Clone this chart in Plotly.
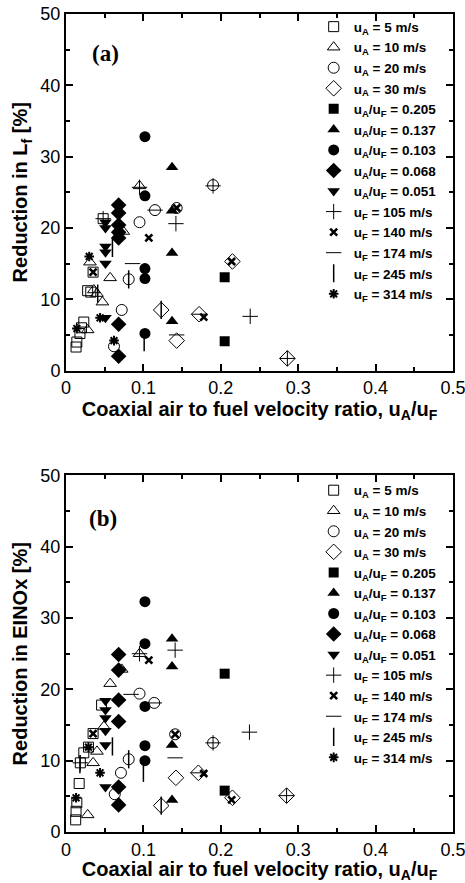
import plotly.graph_objects as go
from plotly.subplots import make_subplots

# ---------------- Panel (a): Reduction in Lf ----------------
a_uA5_x = [0.013, 0.014, 0.018, 0.020, 0.023, 0.028, 0.032, 0.035, 0.048]
a_uA5_y = [3.3, 4.0, 5.2, 6.0, 6.8, 11.2, 11.0, 13.8, 21.3]
a_uA10_x = [0.028, 0.031, 0.036, 0.040, 0.047, 0.057, 0.074, 0.095]
a_uA10_y = [5.7, 15.2, 11.3, 10.8, 9.6, 13.0, 19.5, 25.9]
a_uA20_x = [0.062, 0.072, 0.081, 0.095, 0.115, 0.143, 0.190]
a_uA20_y = [3.4, 8.5, 12.8, 20.8, 22.5, 22.8, 26.0]
a_uA30_x = [0.123, 0.143, 0.172, 0.215, 0.286]
a_uA30_y = [8.5, 4.2, 7.9, 15.3, 1.7]
a_r205_x = [0.205, 0.205]
a_r205_y = [13.1, 4.1]
a_r137_x = [0.137, 0.137, 0.137, 0.137]
a_r137_y = [28.5, 22.4, 16.5, 6.9]
a_r103_x = [0.102, 0.102, 0.102, 0.102, 0.102]
a_r103_y = [32.8, 24.5, 14.3, 12.9, 5.2]
a_r068_x = [0.068, 0.068, 0.068, 0.068, 0.068, 0.068, 0.068]
a_r068_y = [23.2, 22.1, 20.4, 19.4, 18.6, 6.5, 2.0]
a_r051_x = [0.051, 0.051, 0.051, 0.051, 0.051, 0.051]
a_r051_y = [20.8, 20.0, 17.4, 16.6, 15.0, 7.4]
a_uF105_x = [0.048, 0.095, 0.142, 0.190, 0.238, 0.286]
a_uF105_y = [21.3, 25.7, 20.6, 25.9, 7.6, 1.7]
a_uF140_x = [0.035, 0.107, 0.143, 0.178, 0.214]
a_uF140_y = [13.8, 18.6, 22.8, 7.5, 15.3]
a_uF174_x = [0.086, 0.115, 0.143, 0.172]
a_uF174_y = [15.0, 22.5, 5.0, 7.9]
a_uF245_x = [0.041, 0.060, 0.081, 0.101, 0.123]
a_uF245_y = [10.8, 17.2, 12.8, 4.0, 8.5]
a_uF314_x = [0.014, 0.030, 0.044, 0.062]
a_uF314_y = [5.9, 16.0, 7.4, 4.2]

# ---------------- Panel (b): Reduction in EINOx ----------------
b_uA5_x = [0.0125, 0.013, 0.014, 0.017, 0.0185, 0.023, 0.029, 0.035, 0.046]
b_uA5_y = [1.7, 2.9, 4.1, 6.8, 9.7, 11.1, 11.9, 13.8, 17.8]
b_uA10_x = [0.028, 0.035, 0.040, 0.049, 0.057, 0.072, 0.095]
b_uA10_y = [2.4, 9.7, 11.3, 14.8, 20.8, 22.8, 25.0]
b_uA20_x = [0.063, 0.071, 0.081, 0.095, 0.114, 0.141, 0.190]
b_uA20_y = [5.3, 8.3, 10.2, 19.4, 18.1, 13.7, 12.5]
b_uA30_x = [0.123, 0.142, 0.171, 0.215, 0.285]
b_uA30_y = [3.7, 7.6, 8.3, 4.8, 5.1]
b_r205_x = [0.205, 0.205]
b_r205_y = [22.2, 5.8]
b_r137_x = [0.137, 0.137, 0.137, 0.137]
b_r137_y = [27.1, 23.2, 12.2, 4.5]
b_r103_x = [0.102, 0.102, 0.102, 0.102, 0.102]
b_r103_y = [32.3, 26.4, 17.6, 12.1, 10.0]
b_r068_x = [0.068, 0.068, 0.068, 0.068, 0.068, 0.068]
b_r068_y = [24.9, 22.7, 18.5, 15.5, 6.3, 3.8]
b_r051_x = [0.051, 0.051, 0.051, 0.051, 0.051, 0.051]
b_r051_y = [18.4, 17.1, 16.0, 14.2, 12.2, 6.3]
b_uF105_x = [0.0185, 0.095, 0.141, 0.190, 0.237, 0.285]
b_uF105_y = [9.7, 25.0, 25.5, 12.5, 14.0, 5.1]
b_uF140_x = [0.035, 0.107, 0.141, 0.178, 0.214]
b_uF140_y = [13.8, 24.1, 13.7, 8.2, 4.5]
b_uF174_x = [0.084, 0.114, 0.141, 0.171]
b_uF174_y = [19.3, 18.1, 10.4, 8.3]
b_uF245_x = [0.018, 0.060, 0.081, 0.100, 0.123]
b_uF245_y = [9.5, 12.0, 10.2, 8.3, 3.7]
b_uF314_x = [0.013, 0.029, 0.044]
b_uF314_y = [4.8, 11.9, 8.3]

series_labels = [
    "u<sub>A</sub> = 5 m/s", "u<sub>A</sub> = 10 m/s", "u<sub>A</sub> = 20 m/s", "u<sub>A</sub> = 30 m/s",
    "u<sub>A</sub>/u<sub>F</sub> = 0.205", "u<sub>A</sub>/u<sub>F</sub> = 0.137",
    "u<sub>A</sub>/u<sub>F</sub> = 0.103", "u<sub>A</sub>/u<sub>F</sub> = 0.068",
    "u<sub>A</sub>/u<sub>F</sub> = 0.051",
    "u<sub>F</sub> = 105 m/s", "u<sub>F</sub> = 140 m/s", "u<sub>F</sub> = 174 m/s",
    "u<sub>F</sub> = 245 m/s", "u<sub>F</sub> = 314 m/s",
]

# marker styles: (symbol, size, line width)
styles = [
    ("square-open", 10, 1), ("triangle-up-open", 11, 1), ("circle-open", 11, 1), ("diamond-open", 12, 1),
    ("square", 10, 0), ("triangle-up", 11, 0), ("circle", 11, 0), ("diamond", 12, 0), ("triangle-down", 11, 0),
    ("cross-thin-open", 11, 1), ("x-thin-open", 7, 2.6), ("line-ew-open", 11, 1),
    ("line-ns-open", 13, 1.5), ("asterisk-open", 8, 2),
]

panel_a = [(a_uA5_x, a_uA5_y), (a_uA10_x, a_uA10_y), (a_uA20_x, a_uA20_y), (a_uA30_x, a_uA30_y),
           (a_r205_x, a_r205_y), (a_r137_x, a_r137_y), (a_r103_x, a_r103_y), (a_r068_x, a_r068_y),
           (a_r051_x, a_r051_y), (a_uF105_x, a_uF105_y), (a_uF140_x, a_uF140_y), (a_uF174_x, a_uF174_y),
           (a_uF245_x, a_uF245_y), (a_uF314_x, a_uF314_y)]
panel_b = [(b_uA5_x, b_uA5_y), (b_uA10_x, b_uA10_y), (b_uA20_x, b_uA20_y), (b_uA30_x, b_uA30_y),
           (b_r205_x, b_r205_y), (b_r137_x, b_r137_y), (b_r103_x, b_r103_y), (b_r068_x, b_r068_y),
           (b_r051_x, b_r051_y), (b_uF105_x, b_uF105_y), (b_uF140_x, b_uF140_y), (b_uF174_x, b_uF174_y),
           (b_uF245_x, b_uF245_y), (b_uF314_x, b_uF314_y)]

fig = make_subplots(rows=2, cols=1, vertical_spacing=0.1282)

for row, data, leg in [(1, panel_a, "legend"), (2, panel_b, "legend2")]:
    for (xs, ys), lab, (sym, sz, lw) in zip(data, series_labels, styles):
        fig.add_trace(go.Scatter(
            x=xs, y=ys, mode="markers", name="<b>" + lab + "</b>", legend=leg,
            marker=dict(symbol=sym, size=sz, color="black",
                        line=dict(color="black", width=lw)),
        ), row=row, col=1)

FAM = "Liberation Sans, Arial, sans-serif"
axis_font = dict(family=FAM, size=18, color="black")
xtitle_font = dict(family=FAM, size=20, color="black")
ytitle_font = dict(family=FAM, size=20, color="black")

for r in (1, 2):
    fig.update_xaxes(range=[0, 0.5], dtick=0.1, tick0=0, ticks="inside", ticklen=7, tickwidth=1.5,
                     tickcolor="black", showline=True, linecolor="black", linewidth=2, mirror="ticks",
                     showgrid=False, zeroline=False, tickfont=axis_font, automargin=False,
                     ticklabeloverflow="allow",
                     minor=dict(ticks="inside", ticklen=4, dtick=0.05, tickcolor="black", showgrid=False),
                     title=dict(text="<b>Coaxial air to fuel velocity ratio, u<sub>A</sub>/u<sub>F</sub></b>",
                                font=xtitle_font, standoff=2),
                     row=r, col=1)
    fig.update_yaxes(range=[0, 50], dtick=10, tick0=0, ticks="inside", ticklen=7, tickwidth=1.5,
                     tickcolor="black", showline=True, linecolor="black", linewidth=2, mirror="ticks",
                     showgrid=False, zeroline=False, tickfont=axis_font, automargin=False,
                     minor=dict(ticks="inside", ticklen=4, dtick=5, tickcolor="black", showgrid=False),
                     row=r, col=1)

fig.update_yaxes(title=dict(text="<b>Reduction in L<sub>f</sub> [%]</b>", font=ytitle_font, standoff=7), row=1, col=1)
fig.update_yaxes(title=dict(text="<b>Reduction in EINOx [%]</b>", font=ytitle_font, standoff=7), row=2, col=1)

leg_font = dict(family=FAM, size=13.5, color="black")
fig.update_layout(
    width=465, height=883,
    margin=dict(l=66, r=12, t=13, b=51),
    paper_bgcolor="white", plot_bgcolor="white",
    showlegend=True,
    legend=dict(x=0.64, y=1.002, xanchor="left", yanchor="top", font=leg_font,
                bgcolor="rgba(0,0,0,0)", borderwidth=0, itemclick=False,
                xref="paper", yref="paper", tracegroupgap=0),
    legend2=dict(x=0.64, y=0.436, xanchor="left", yanchor="top", font=leg_font,
                 bgcolor="rgba(0,0,0,0)", borderwidth=0, itemclick=False,
                 xref="paper", yref="paper", tracegroupgap=0),
    font=dict(family=FAM, color="black"),
)

fig.add_annotation(text="<b>(a)</b>", xref="x domain", yref="y domain", x=0.103, y=0.888,
                   xanchor="center", yanchor="middle", showarrow=False,
                   font=dict(family="Liberation Serif, Times New Roman, serif", size=23, color="black"))
fig.add_annotation(text="<b>(b)</b>", xref="x2 domain", yref="y2 domain", x=0.096, y=0.88,
                   xanchor="center", yanchor="middle", showarrow=False,
                   font=dict(family="Liberation Serif, Times New Roman, serif", size=23, color="black"))

fig.write_html("out.html", config={"displayModeBar": False},
               post_script="document.body.style.margin='0';document.body.style.padding='0';")
